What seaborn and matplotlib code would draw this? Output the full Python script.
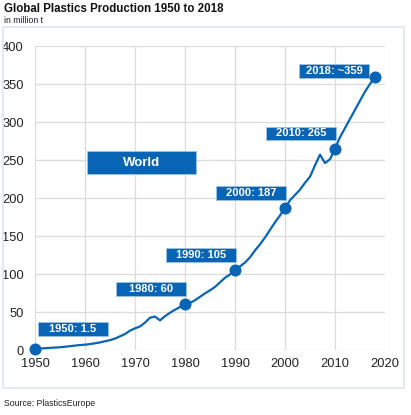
import seaborn as sns
import matplotlib.pyplot as plt
import pandas as pd
from matplotlib.patches import Rectangle

# Weltweite Kunststoffproduktion, Mio. t
years = list(range(1950, 2019))
production = [
    1.5, 2.0, 2.4, 2.8, 3.2, 3.6, 4.3, 5.0, 5.8, 6.5,
    7.0, 7.8, 8.8, 10.0, 11.5, 13.0, 15.0, 18.0, 21.0, 25.5,
    28.5, 31.0, 36.0, 42.5, 44.0, 39.0, 44.5, 49.0, 53.0, 56.5,
    60.0, 62.0, 65.5, 70.0, 74.5, 78.5, 83.0, 89.0, 95.0, 99.5,
    105.0, 110.0, 115.0, 122.0, 131.0, 139.0, 148.0, 158.0, 168.0, 177.0,
    187.0, 197.0, 204.0, 211.0, 220.0, 228.0, 243.0, 257.0, 246.0, 251.0,
    265.0, 280.0, 292.0, 304.0, 316.0, 328.0, 340.0, 350.0, 359.0,
]
highlight_years = [1950, 1980, 1990, 2000, 2010, 2018]
highlight_values = [1.5, 60, 105, 187, 265, 359]
highlight_labels = ["1950: 1.5", "1980: 60", "1990: 105", "2000: 187", "2010: 265", "2018: ~359"]
x_ticks = [1950, 1960, 1970, 1980, 1990, 2000, 2010, 2020]
y_ticks = [0, 50, 100, 150, 200, 250, 300, 350, 400]

df = pd.DataFrame({"year": years, "production": production})
df_hl = pd.DataFrame({"year": highlight_years, "production": highlight_values, "label": highlight_labels})

BLUE = "#0864b4"
GRID = "#dcdcdc"

sns.set_theme(style="white")
plt.rcParams["font.family"] = ["Liberation Sans", "DejaVu Sans"]

fig = plt.figure(figsize=(4.11, 4.15), dpi=100)
ax = fig.add_axes([35 / 411, 1 - 350 / 415, 350 / 411, 304 / 415])

# Rahmen um die Grafik
fig.patches.append(Rectangle((3 / 411, 1 - 388 / 415), 401 / 411, 361 / 415,
                             transform=fig.transFigure, fill=False,
                             edgecolor="#dde5ee", linewidth=1.2))

sns.lineplot(data=df, x="year", y="production", color=BLUE, linewidth=1.6, ax=ax)
sns.scatterplot(data=df_hl, x="year", y="production", color=BLUE, s=75,
                edgecolor=BLUE, linewidth=0, zorder=5, clip_on=False, ax=ax)

# Beschriftungskästen (links oberhalb des Punktes, 1950 rechts oberhalb, 2018 links daneben)
box_w, box_h = 14, 18
for _, r in df_hl.iterrows():
    if r["year"] == 1950:
        x0, y0 = r["year"] + 0.6, r["production"] + 17
    elif r["year"] == 2018:
        x0, y0 = r["year"] - 1.2 - box_w, r["production"] - 1
    else:
        x0, y0 = r["year"] - box_w + 0.2, r["production"] + 11
    ax.add_patch(Rectangle((x0, y0), box_w, box_h, facecolor=BLUE,
                           edgecolor="#9cc3e6", linewidth=0.6, zorder=4))
    ax.text(x0 + box_w / 2, y0 + box_h / 2, r["label"], color="white",
            fontsize=8, fontweight="bold", ha="center", va="center", zorder=6)

ax.add_patch(Rectangle((1960.4, 231.5), 21.8, 30.5, facecolor=BLUE,
                       edgecolor="#9cc3e6", linewidth=0.6, zorder=4))
ax.text(1971.3, 246.7, "World", color="white", fontsize=9.5, fontweight="bold",
        ha="center", va="center", zorder=6)

ax.set_xlim(1950, 2020)
ax.set_ylim(0, 400)
ax.set_xticks(x_ticks)
ax.set_yticks(y_ticks)
ax.grid(True, color=GRID, linewidth=0.9)
ax.set_axisbelow(True)
for s in ax.spines.values():
    s.set_visible(False)
ax.tick_params(length=0, labelsize=9.3, colors="#222222")
ax.tick_params(axis="x", pad=6)
ax.tick_params(axis="y", pad=8)
ax.set_xlabel("")
ax.set_ylabel("")

fig.text(4 / 411, 1 - 3 / 415, "Global Plastics Production 1950 to 2018",
         fontsize=8.3, fontweight="bold", va="top", ha="left", color="#111111")
fig.text(4 / 411, 1 - 16 / 415, "in million t", fontsize=6.3, va="top", ha="left", color="#222222")
fig.text(4 / 411, 1 - 399 / 415, "Source: PlasticsEurope", fontsize=6.3, va="top", ha="left",
         color="#222222")

fig.savefig("out.png", dpi=100)
